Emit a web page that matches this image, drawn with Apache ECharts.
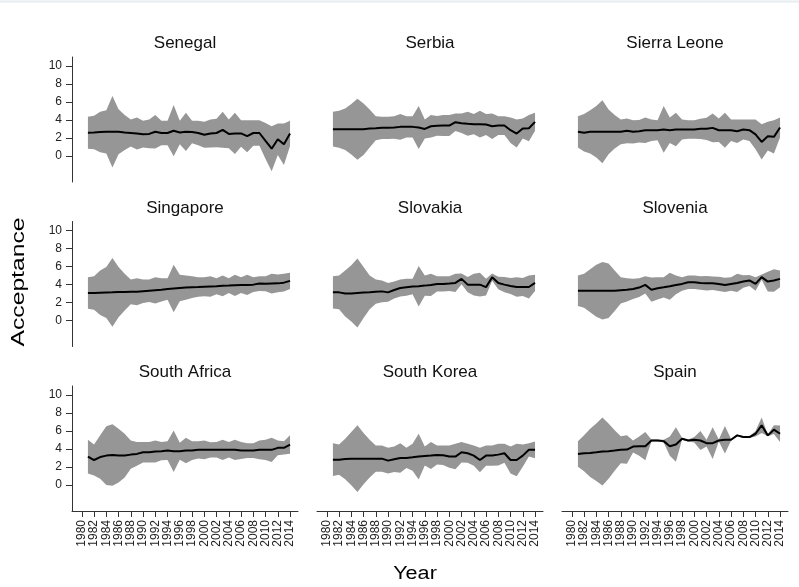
<!DOCTYPE html>
<html>
<head>
<meta charset="utf-8">
<script src="https://cdn.jsdelivr.net/npm/echarts@6/dist/echarts.min.js"></script>
<style>
  html, body { margin: 0; padding: 0; background: #ffffff; }
  #chart { width: 799px; height: 587px; }
</style>
</head>
<body>
<div id="chart"></div>
<script>
// Survey years and axis ticks
const years = [1981, 1982, 1983, 1984, 1985, 1986, 1987, 1988, 1989, 1990,
               1991, 1992, 1993, 1994, 1995, 1996, 1997, 1998, 1999, 2000,
               2001, 2002, 2003, 2004, 2005, 2006, 2007, 2008, 2009, 2010,
               2011, 2012, 2013, 2014];
const xTicks = [1980, 1982, 1984, 1986, 1988, 1990, 1992, 1994, 1996, 1998,
                2000, 2002, 2004, 2006, 2008, 2010, 2012, 2014];
const yTicks = [0, 2, 4, 6, 8, 10];

// Mean acceptance and confidence half-width per country
const senegalMean = [2.57, 2.6, 2.65, 2.68, 2.68, 2.68, 2.6, 2.55, 2.5, 2.42, 2.45, 2.68, 2.55, 2.55, 2.8, 2.6, 2.68, 2.65, 2.55, 2.35, 2.5, 2.55, 2.9, 2.45, 2.5, 2.5, 2.2, 2.55, 2.55, 1.67, 0.8, 1.85, 1.3, 2.5];
const senegalCi = [1.78, 1.86, 2.25, 2.4, 3.97, 2.5, 1.94, 1.5, 1.78, 1.48, 1.6, 1.86, 1.35, 1.35, 2.85, 1.3, 2.12, 1.25, 1.35, 1.45, 1.55, 1.58, 2.0, 1.6, 2.3, 1.48, 1.78, 1.43, 1.43, 2.0, 2.5, 1.75, 2.3, 1.4];

const serbiaMean = [2.97, 2.97, 2.97, 2.97, 2.97, 2.97, 3.05, 3.08, 3.12, 3.12, 3.16, 3.23, 3.23, 3.23, 3.16, 3.0, 3.3, 3.35, 3.38, 3.38, 3.75, 3.64, 3.57, 3.53, 3.53, 3.49, 3.3, 3.38, 3.38, 2.86, 2.49, 3.05, 3.08, 3.79];
const serbiaCi = [1.93, 2.05, 2.3, 2.8, 3.4, 2.87, 2.1, 1.34, 1.23, 1.23, 1.26, 1.42, 1.19, 1.19, 2.4, 1.05, 1.24, 1.1, 1.16, 1.16, 0.97, 1.08, 1.33, 1.12, 1.49, 1.16, 1.42, 1.04, 1.04, 1.42, 1.56, 1.1, 1.46, 1.0];

const sierraLeoneMean = [2.68, 2.57, 2.68, 2.68, 2.68, 2.68, 2.68, 2.68, 2.79, 2.68, 2.75, 2.86, 2.86, 2.86, 2.94, 2.86, 2.94, 2.94, 2.94, 2.94, 3.01, 3.01, 3.12, 2.86, 2.86, 2.86, 2.75, 2.94, 2.86, 2.4, 1.56, 2.19, 2.12, 3.16];
const sierraLeoneCi = [1.74, 2.08, 2.41, 2.86, 3.5, 2.49, 1.86, 1.37, 1.37, 1.3, 1.25, 1.42, 1.19, 1.12, 2.6, 1.42, 1.86, 1.11, 1.04, 1.04, 1.12, 1.23, 1.6, 1.3, 1.94, 1.19, 1.3, 1.12, 1.19, 1.65, 1.97, 1.6, 1.86, 1.12];

const singaporeMean = [3.05, 3.06, 3.08, 3.1, 3.12, 3.15, 3.15, 3.18, 3.2, 3.25, 3.3, 3.35, 3.4, 3.5, 3.55, 3.6, 3.65, 3.7, 3.72, 3.75, 3.78, 3.8, 3.85, 3.87, 3.9, 3.93, 3.95, 3.98, 4.1, 4.08, 4.1, 4.12, 4.2, 4.4];
const singaporeCi = [1.75, 1.86, 2.48, 2.84, 3.83, 2.79, 2.04, 1.37, 1.5, 1.3, 1.25, 1.46, 1.3, 1.2, 2.65, 1.48, 1.35, 1.22, 1.09, 1.06, 1.14, 0.9, 1.15, 0.83, 1.18, 0.88, 1.13, 0.83, 0.82, 0.84, 1.1, 1.0, 0.99, 0.9];

const slovakiaMean = [3.12, 3.12, 3.0, 3.0, 3.05, 3.1, 3.12, 3.2, 3.23, 3.12, 3.38, 3.6, 3.68, 3.76, 3.8, 3.87, 3.95, 4.06, 4.06, 4.1, 4.17, 4.62, 3.98, 3.98, 3.98, 3.7, 4.81, 4.17, 3.98, 3.83, 3.72, 3.72, 3.72, 4.17];
const slovakiaCi = [1.8, 1.88, 2.56, 3.13, 3.83, 2.84, 1.88, 1.35, 1.21, 1.05, 0.94, 0.95, 0.94, 0.86, 2.25, 1.13, 1.24, 0.85, 0.85, 0.82, 1.02, 0.6, 0.85, 1.2, 1.32, 0.92, 0.4, 0.7, 0.85, 0.9, 1.09, 1.0, 1.28, 0.91];

const sloveniaMean = [3.3, 3.3, 3.3, 3.3, 3.3, 3.3, 3.3, 3.35, 3.4, 3.5, 3.65, 3.95, 3.42, 3.57, 3.68, 3.8, 3.95, 4.06, 4.25, 4.25, 4.17, 4.14, 4.14, 4.06, 3.95, 4.06, 4.17, 4.32, 4.44, 4.06, 4.81, 4.32, 4.44, 4.62];
const sloveniaCi = [1.7, 1.89, 2.38, 2.9, 3.2, 3.02, 2.26, 1.46, 1.3, 1.12, 1.05, 0.95, 1.35, 1.24, 1.13, 1.5, 1.05, 0.75, 0.75, 0.75, 0.75, 0.8, 0.75, 0.8, 0.8, 0.75, 1.02, 0.7, 0.6, 0.75, 0.3, 1.1, 1.24, 0.94];

const southAfricaMean = [3.15, 2.77, 3.1, 3.26, 3.33, 3.26, 3.26, 3.37, 3.45, 3.63, 3.63, 3.71, 3.75, 3.82, 3.75, 3.75, 3.82, 3.82, 3.9, 3.9, 3.9, 3.9, 3.9, 3.9, 3.9, 3.82, 3.82, 3.82, 3.9, 3.9, 3.9, 4.12, 4.12, 4.49];
const southAfricaCi = [1.87, 1.72, 2.41, 3.26, 3.41, 2.99, 2.43, 1.57, 1.31, 1.13, 1.13, 1.23, 1.01, 1.05, 2.3, 0.95, 1.42, 1.05, 0.97, 1.04, 0.85, 0.86, 1.12, 0.86, 1.12, 0.94, 0.82, 0.82, 1.04, 1.12, 1.34, 0.82, 0.75, 1.02];

const southKoreaMean = [2.81, 2.81, 2.88, 2.92, 2.92, 2.92, 2.92, 2.92, 2.92, 2.7, 2.85, 3.0, 3.0, 3.07, 3.15, 3.22, 3.26, 3.33, 3.3, 3.15, 3.15, 3.63, 3.52, 3.26, 2.77, 3.26, 3.26, 3.37, 3.52, 2.77, 2.77, 3.26, 3.9, 3.9];
const southKoreaCi = [1.83, 1.68, 2.25, 2.96, 3.71, 2.85, 2.1, 1.46, 1.46, 1.42, 1.42, 1.64, 1.12, 1.5, 2.54, 1.05, 1.5, 1.05, 1.08, 1.23, 1.42, 1.13, 1.05, 1.12, 1.35, 1.12, 1.12, 1.2, 1.05, 1.5, 1.8, 1.23, 0.74, 0.93];

const spainMean = [3.45, 3.52, 3.56, 3.63, 3.71, 3.75, 3.82, 3.9, 3.93, 4.27, 4.31, 4.31, 4.94, 4.94, 4.87, 4.31, 4.49, 5.13, 4.94, 5.02, 4.94, 4.64, 4.64, 4.94, 5.02, 5.02, 5.51, 5.32, 5.32, 5.69, 6.63, 5.51, 6.14, 5.69];
const spainCi = [1.42, 1.99, 2.69, 3.19, 3.78, 3.07, 2.25, 1.5, 1.58, 0.67, 1.08, 1.57, 0.1, 0.1, 0.15, 1.08, 1.91, 0.11, 0.1, 0.3, 1.05, 0.38, 1.76, 0.1, 1.53, 0.1, 0.1, 0.1, 0.1, 0.3, 0.86, 0.11, 0.49, 0.91];

const countries = ['Senegal', 'Serbia', 'Sierra Leone', 'Singapore', 'Slovakia',
                   'Slovenia', 'South Africa', 'South Korea', 'Spain'];
const means = [senegalMean, serbiaMean, sierraLeoneMean, singaporeMean, slovakiaMean,
               sloveniaMean, southAfricaMean, southKoreaMean, spainMean];
const halfWidths = [senegalCi, serbiaCi, sierraLeoneCi, singaporeCi, slovakiaCi,
                    sloveniaCi, southAfricaCi, southKoreaCi, spainCi];

// Panel layout (3 x 3 small multiples)
const FONT = '"Liberation Sans", Arial, sans-serif';
const colLeft = [72, 317, 562];
const rowTop = [57, 221.5, 386];
const PW = 226, PH = 125;
const AXIS = '#333333';
const BAND = '#969696';

const grids = [], xAxes = [], yAxes = [], series = [], titles = [];

countries.forEach((name, k) => {
  const r = Math.floor(k / 3), c = k % 3;
  const mean = means[k], ci = halfWidths[k];

  grids.push({ left: colLeft[c], top: rowTop[r], width: PW, height: PH });

  titles.push({
    text: name,
    left: colLeft[c] + PW / 2,
    top: 35 + 164.5 * r,
    textAlign: 'center',
    padding: 0,
    textStyle: { fontFamily: FONT, fontSize: 17, fontWeight: 'normal', color: '#111' }
  });

  xAxes.push({
    gridIndex: k, type: 'value', min: 1978.4, max: 2015.3,
    show: r === 2,
    axisLine: { show: true, onZero: false, lineStyle: { color: AXIS, width: 1 } },
    axisTick: { show: true, customValues: xTicks, length: 6, lineStyle: { color: AXIS } },
    axisLabel: { customValues: xTicks, rotate: 90, margin: 9, fontFamily: FONT, fontSize: 12, color: '#222',
                 formatter: v => String(v) },
    splitLine: { show: false }
  });

  yAxes.push({
    gridIndex: k, type: 'value', min: -2.9, max: 11,
    show: c === 0,
    axisLine: { show: true, onZero: false, lineStyle: { color: AXIS, width: 1 } },
    axisTick: { show: true, customValues: yTicks, length: 6, lineStyle: { color: AXIS } },
    axisLabel: { customValues: yTicks, margin: 10, fontFamily: FONT, fontSize: 12, color: '#222',
                 formatter: v => String(v) },
    splitLine: { show: false }
  });

  // confidence band: one polygon through upper bounds and back along lower bounds
  const bandData = years.map((y, i) => [y, mean[i] - ci[i], mean[i] + ci[i]]);
  series.push({
    type: 'custom', xAxisIndex: k, yAxisIndex: k, silent: true,
    data: bandData,
    encode: { x: 0, y: [1, 2] },
    renderItem: (params, api) => {
      if (params.dataIndex !== 0) return;
      const upper = bandData.map(d => api.coord([d[0], d[2]]));
      const lower = bandData.map(d => api.coord([d[0], d[1]])).reverse();
      return {
        type: 'polygon',
        shape: { points: upper.concat(lower) },
        style: { fill: BAND, stroke: null }
      };
    }
  });

  // mean line
  series.push({
    type: 'line', xAxisIndex: k, yAxisIndex: k,
    data: years.map((y, i) => [y, mean[i]]),
    symbol: 'none', lineStyle: { color: '#000', width: 2 }, silent: true
  });
});

const chart = echarts.init(document.getElementById('chart'), null, { renderer: 'canvas' });
chart.setOption({
  backgroundColor: '#ffffff',
  animation: false,
  title: titles,
  grid: grids,
  xAxis: xAxes,
  yAxis: yAxes,
  series: series,
  graphic: [
    {
      type: 'line', silent: true,
      shape: { x1: 0, y1: 1.5, x2: 799, y2: 1.5 },
      style: { stroke: '#e6ecef', lineWidth: 2 }
    },
    {
      type: 'text', x: 19, y: 282, rotation: Math.PI / 2, scaleX: 1.3,
      style: { text: 'Acceptance', font: '19px "Liberation Sans", Arial, sans-serif', fill: '#000',
               align: 'center', verticalAlign: 'middle', textAlign: 'center', textVerticalAlign: 'middle' }
    },
    {
      type: 'text', x: 415, y: 574, scaleX: 1.2,
      style: { text: 'Year', font: '18px "Liberation Sans", Arial, sans-serif', fill: '#000',
               align: 'center', verticalAlign: 'middle', textAlign: 'center', textVerticalAlign: 'middle' }
    }
  ]
});
</script>
</body>
</html>
